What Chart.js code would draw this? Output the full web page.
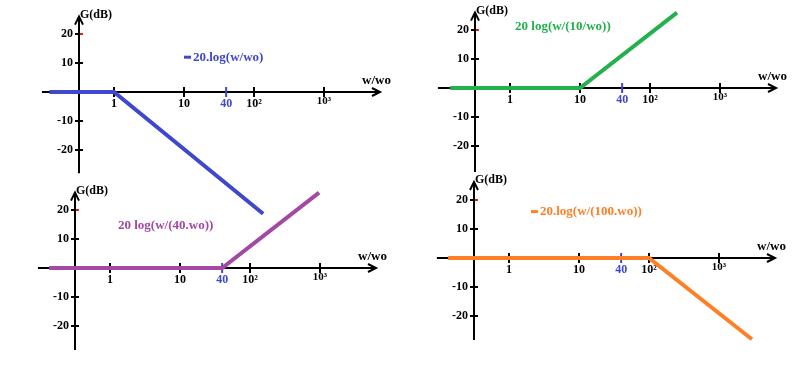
<!DOCTYPE html>
<html>
<head>
<meta charset="utf-8">
<title>Diagrammes de Bode</title>
<script src="https://cdn.jsdelivr.net/npm/chart.js@4.4.1/dist/chart.umd.min.js"></script>
<style>
    html, body { margin: 0; padding: 0; background: #fff; }
    #board { position: relative; width: 800px; height: 365px; overflow: hidden; background: #fff; }
    #board canvas { position: absolute; }
</style>
</head>
<body>
<div id="board"></div>
<script>
// Graduations communes aux quatre diagrammes
const xTickValues = [1, 10, 40, 100, 1000];
const xTickLabels = ['1', '10', '40', '10²', '10³'];
const yTickValues = [20, 10, -10, -20];
const yTickLabels = ['20', '10', '-10', '-20'];
const xAxisTitle = 'w/wo';
const yAxisTitle = 'G(dB)';

// Asymptotes : w/wo et gain en dB
const wBlue = [0.12, 1, 135];
const gBlue = [0, 0, -42];
const wGreen = [0.14, 10, 243];
const gGreen = [0, 0, 26];
const wPurple = [0.135, 40, 970];
const gPurple = [0, 0, 26];
const wOrange = [0.135, 100, 2950];
const gOrange = [0, 0, -28];

const labelBlue = '20.log(w/wo)';
const labelGreen = '20 log(w/(10/wo))';
const labelPurple = '20 log(w/(40.wo))';
const labelOrange = '20.log(w/(100.wo))';

const FONT = '"Liberation Serif", "Times New Roman", serif';
const MARK_COLOR = '#3f48cc'; // couleur de la graduation 40

// Emplacement de chaque diagramme sur la page
const panels = [
    { originX: 114, originY: 92, decadePx: 70, dbPx: 29, yMin: -45, yMax: 30, yAxisFrom: -28, yAxisTo: 26,
      w: wBlue, g: gBlue, color: '#3f48cc', label: labelBlue, dash: true, labelAt: { w: 10, g: 12 } },
    { originX: 510, originY: 88, decadePx: 70, dbPx: 29, yMin: -30, yMax: 30, yAxisFrom: -29, yAxisTo: 26,
      w: wGreen, g: gGreen, color: '#22b14c', label: labelGreen, dash: false, labelAt: { w: 1.18, g: 21 } },
    { originX: 110, originY: 268, decadePx: 70, dbPx: 29, yMin: -30, yMax: 30, yAxisFrom: -28.3, yAxisTo: 26,
      w: wPurple, g: gPurple, color: '#a349a4', label: labelPurple, dash: false, labelAt: { w: 1.3, g: 14.6 } },
    { originX: 509, originY: 258, decadePx: 70, dbPx: 29, yMin: -30, yMax: 30, yAxisFrom: -28.3, yAxisTo: 26.2,
      w: wOrange, g: gOrange, color: '#ff7f27', label: labelOrange, dash: true, labelAt: { w: 2.06, g: 16 } }
];

const X_LOG_MIN = -1.2;
const X_LOG_MAX = 3.9;
const X_AXIS_FROM = Math.pow(10, -1.03);
const X_AXIS_TO = Math.pow(10, 3.8);
const Y_AXIS_AT = Math.pow(10, -0.5);
const PAD = 24;

// Axes fléchés, graduations et textes
function bodeAxes(panel) {
    return {
        id: 'bodeAxes',
        beforeDatasetsDraw(chart) {
            const { ctx } = chart;
            const xs = chart.scales.x;
            const ys = chart.scales.y;
            const ax = xs.getPixelForValue(Y_AXIS_AT);
            const ay = ys.getPixelForValue(0);
            const xStart = xs.getPixelForValue(X_AXIS_FROM);
            const xEnd = xs.getPixelForValue(X_AXIS_TO);
            const yTop = ys.getPixelForValue(panel.yAxisTo);
            const yBot = ys.getPixelForValue(panel.yAxisFrom);

            ctx.save();
            ctx.strokeStyle = '#000';
            ctx.lineWidth = 2;
            ctx.beginPath();
            ctx.moveTo(xStart, ay);
            ctx.lineTo(xEnd, ay);
            ctx.moveTo(ax, yBot);
            ctx.lineTo(ax, yTop);
            ctx.stroke();

            // flèches
            ctx.beginPath();
            ctx.moveTo(xEnd - 8, ay - 4);
            ctx.lineTo(xEnd, ay);
            ctx.lineTo(xEnd - 8, ay + 4);
            ctx.moveTo(ax - 4, yTop + 8);
            ctx.lineTo(ax, yTop);
            ctx.lineTo(ax + 4, yTop + 8);
            ctx.stroke();

            ctx.fillStyle = '#000';

            // graduations en x
            ctx.textAlign = 'center';
            ctx.textBaseline = 'top';
            xTickValues.forEach((v, i) => {
                const px = xs.getPixelForValue(v);
                const col = v === 40 ? MARK_COLOR : '#000';
                ctx.strokeStyle = col;
                ctx.beginPath();
                ctx.moveTo(px, ay - 5);
                ctx.lineTo(px, ay + 5);
                ctx.stroke();
                ctx.fillStyle = col;
                if (v === 1000) {
                    ctx.font = 'bold 11px ' + FONT;
                    ctx.fillText(xTickLabels[i], px, ay + 4);
                } else {
                    ctx.font = 'bold 12px ' + FONT;
                    ctx.fillText(xTickLabels[i], px, ay + 6);
                }
            });

            // graduations en y
            ctx.font = 'bold 12px ' + FONT;
            ctx.fillStyle = '#000';
            ctx.textAlign = 'right';
            ctx.textBaseline = 'middle';
            yTickValues.forEach((v, i) => {
                const py = ys.getPixelForValue(v);
                ctx.strokeStyle = '#000';
                ctx.beginPath();
                ctx.moveTo(ax - 4, py);
                ctx.lineTo(ax + 1, py);
                ctx.stroke();
                ctx.strokeStyle = v === 20 ? '#e02020' : '#000';
                ctx.beginPath();
                ctx.moveTo(ax + 1, py);
                ctx.lineTo(ax + 4, py);
                ctx.stroke();
                ctx.fillText(yTickLabels[i], ax - 6, py);
            });

            // titres des axes
            ctx.textBaseline = 'alphabetic';
            ctx.textAlign = 'left';
            ctx.fillText(yAxisTitle, ax + 1, yTop + 1);
            ctx.font = 'bold 13px ' + FONT;
            ctx.textAlign = 'right';
            ctx.fillText(xAxisTitle, xEnd + 11, ay - 8);

            // expression de la courbe
            let lx = xs.getPixelForValue(panel.labelAt.w);
            const ly = ys.getPixelForValue(panel.labelAt.g);
            ctx.fillStyle = panel.color;
            ctx.strokeStyle = panel.color;
            if (panel.dash) {
                ctx.lineWidth = 3;
                ctx.beginPath();
                ctx.moveTo(lx, ly);
                ctx.lineTo(lx + 7, ly);
                ctx.stroke();
                lx += 9;
            }
            ctx.textAlign = 'left';
            ctx.textBaseline = 'middle';
            ctx.fillText(panel.label, lx, ly);
            ctx.restore();
        }
    };
}

const board = document.getElementById('board');

panels.forEach(panel => {
    const plotW = (X_LOG_MAX - X_LOG_MIN) * panel.decadePx;
    const plotH = (panel.yMax - panel.yMin) * panel.dbPx / 10;
    const leftF = panel.originX + X_LOG_MIN * panel.decadePx - PAD;
    const topF = panel.originY - panel.yMax * panel.dbPx / 10 - PAD;
    const left = Math.floor(leftF);
    const top = Math.floor(topF);
    const padL = PAD + (leftF - left);
    const padT = PAD + (topF - top);
    const width = Math.ceil(padL + plotW + PAD);
    const height = Math.ceil(padT + plotH + PAD);

    const canvas = document.createElement('canvas');
    canvas.width = width;
    canvas.height = height;
    canvas.style.left = left + 'px';
    canvas.style.top = top + 'px';
    canvas.style.width = width + 'px';
    canvas.style.height = height + 'px';
    board.appendChild(canvas);

    new Chart(canvas.getContext('2d'), {
        type: 'line',
        data: {
            datasets: [{
                label: panel.label,
                data: panel.w.map((w, i) => ({ x: w, y: panel.g[i] })),
                borderColor: panel.color,
                borderWidth: 4,
                pointRadius: 0,
                tension: 0,
                fill: false,
                clip: false
            }]
        },
        options: {
            responsive: false,
            animation: false,
            events: [],
            devicePixelRatio: 1,
            layout: {
                padding: { left: padL, top: padT, right: width - padL - plotW, bottom: height - padT - plotH }
            },
            plugins: {
                legend: { display: false },
                tooltip: { enabled: false }
            },
            scales: {
                x: {
                    type: 'logarithmic',
                    display: false,
                    bounds: 'data',
                    min: Math.pow(10, X_LOG_MIN),
                    max: Math.pow(10, X_LOG_MAX)
                },
                y: {
                    type: 'linear',
                    display: false,
                    bounds: 'data',
                    min: panel.yMin,
                    max: panel.yMax
                }
            }
        },
        plugins: [bodeAxes(panel)]
    });
});
</script>
</body>
</html>
